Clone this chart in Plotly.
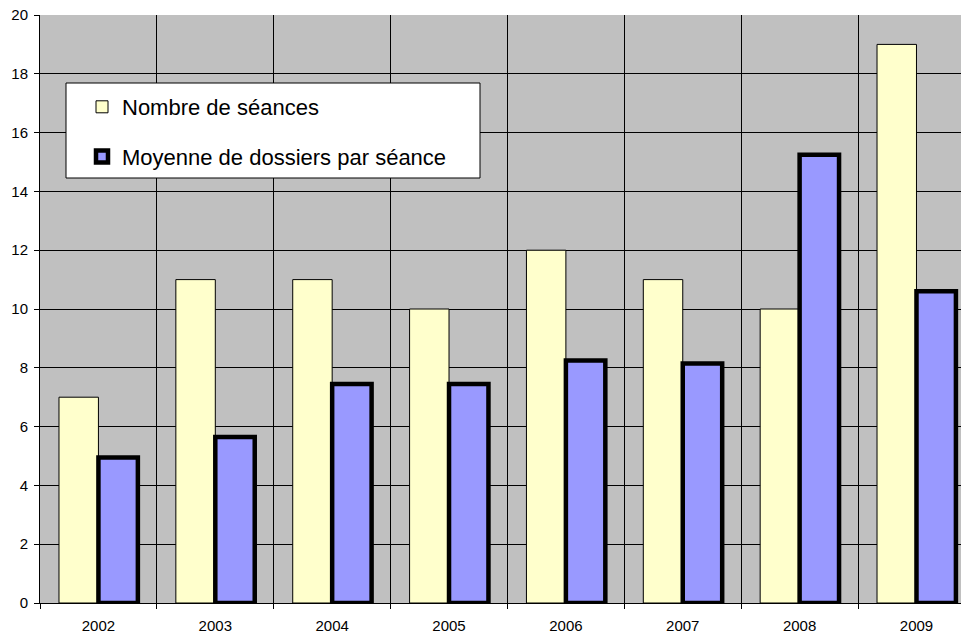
import plotly.graph_objects as go

years = ["2002", "2003", "2004", "2005", "2006", "2007", "2008", "2009"]
nb_seances = [7, 11, 11, 10, 12, 11, 10, 19]
moy_dossiers = [4.95, 5.65, 7.45, 7.45, 8.25, 8.15, 15.25, 10.6]

fig = go.Figure()
fig.add_trace(go.Bar(
    x=years, y=nb_seances, name="Nombre de séances",
    marker=dict(color="#FFFFCC", line=dict(color="black", width=1)),
    legendgroup="a",
))
fig.add_trace(go.Bar(
    x=years, y=moy_dossiers, name="Moyenne de dossiers par séance",
    marker=dict(color="#9999FF", line=dict(color="black", width=4.5)),
    legendgroup="b",
))

# legend frame
fig.add_shape(type="rect", xref="paper", yref="paper",
              x0=(66 - 40) / 921, x1=(480 - 40) / 921,
              y0=(603 - 178) / 588, y1=(603 - 83) / 588,
              fillcolor="white", line=dict(color="black", width=1), layer="above")

fig.update_layout(
    width=961, height=635,
    margin=dict(l=40, r=0, t=15, b=32),
    paper_bgcolor="white",
    plot_bgcolor="#C0C0C0",
    font=dict(family="Liberation Sans, Arial", color="black", size=15),
    barmode="group",
    bargap=0.325,
    bargroupgap=0,
    showlegend=True,
    legend=dict(
        x=(82 - 40) / 921, y=(603 - 86) / 588, xanchor="left", yanchor="top",
        bgcolor="rgba(0,0,0,0)", borderwidth=0,
        font=dict(size=22, color="black"),
        tracegroupgap=18, traceorder="grouped",
    ),
    xaxis=dict(
        type="category", range=[-0.5, 7.381], automargin=False,
        tickson="boundaries", ticks="outside", ticklen=5, tickcolor="black",
        ticklabelstandoff=9,
        showgrid=True, gridcolor="black", gridwidth=1,
        showline=True, linecolor="black", linewidth=1,
        tickfont=dict(size=15),
    ),
    yaxis=dict(
        range=[0, 20], dtick=2, ticks="outside", ticklen=5, tickcolor="black",
        ticklabelstandoff=3, automargin=False,
        showgrid=True, gridcolor="black", gridwidth=1,
        showline=True, linecolor="black", linewidth=1,
        zeroline=False, tickfont=dict(size=15),
    ),
)

# page has a default 8px body margin; drop it so the chart sits at the window corner
fig.write_html("out.html", config={"displayModeBar": False},
               post_script="document.body.style.margin='0';")
